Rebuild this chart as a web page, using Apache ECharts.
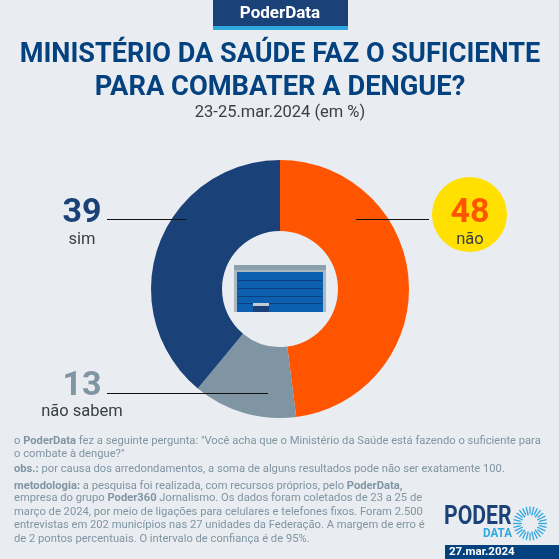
<!DOCTYPE html>
<html><head><meta charset="utf-8">
<style>html,body{margin:0;padding:0;background:#e9ecf0}#c{width:559px;height:559px}</style>
<script src="https://cdn.jsdelivr.net/npm/echarts@6/dist/echarts.min.js"></script>
</head><body><div id="c"></div>
<script>
var categories = ['não', 'não sabem', 'sim'];
var values = [48, 13, 39];
var colors = ['#ff5500', '#7f95a3', '#1a4279'];
var titleLines = ['MINISTÉRIO DA SAÚDE FAZ O SUFICIENTE', 'PARA COMBATER A DENGUE?'];
var subtitle = '23-25.mar.2024 (em %)';
var F = 'Roboto';
var note = '#7f95a3';

function T(x, y, text, size, color, weight, align, sx) {
  return {type: 'text', x: x, y: y, scaleX: sx || 1, silent: true, z: 20, style: {text: text, fontFamily: F, fontSize: size, fill: color, fontWeight: weight || 400, align: align || 'left', verticalAlign: 'middle'}};
}
function R(x, y, w, h, c, z) { return {type: 'rect', silent: true, z: z || 10, shape: {x: x, y: y, width: w, height: h}, style: {fill: c}}; }
function L(x1, y1, x2, y2, c, w, z) { return {type: 'line', silent: true, z: z || 15, shape: {x1: x1, y1: y1, x2: x2, y2: y2}, style: {stroke: c, lineWidth: w}}; }
function Rich(x, y, parts, size) {
  return {type: 'text', x: x, y: y, silent: true, z: 20, style: {fontFamily: F, fontSize: size, fill: note, verticalAlign: 'middle', text: parts.map(function (p) { return p[1] ? '{b|' + p[0] + '}' : '{n|' + p[0] + '}'; }).join(''),
    rich: {b: {fontFamily: F, fontSize: size, fontWeight: 700, fill: note}, n: {fontFamily: F, fontSize: size, fill: note}}}};
}

var g = [
  R(213, 0, 135, 26, '#1a4279'), R(213, 26, 135, 4, '#2fa8e0'),
  T(280, 14, 'PoderData', 17, '#ffffff', 700, 'center'),
  T(280, 55, titleLines[0], 27.1, '#04427f', 700, 'center'),
  T(280, 88, titleLines[1], 27.3, '#04427f', 700, 'center'),
  T(280, 113, subtitle, 16.5, '#3a4045', 400, 'center'),

  {type: 'circle', silent: true, z: 10, shape: {cx: 469.5, cy: 214.5, r: 37.5}, style: {fill: '#ffe000'}},
  T(470, 213, String(values[0]), 34, '#ff5500', 700, 'center'),
  T(470, 240, categories[0], 16.5, '#3a4045', 400, 'center'),
  T(82, 213, String(values[2]), 34, '#1a4279', 700, 'center'),
  T(82, 240, categories[2], 16.5, '#3a4045', 400, 'center'),
  T(82, 386, String(values[1]), 34, '#7f95a3', 700, 'center'),
  T(82, 412, categories[1], 16.5, '#3a4045', 400, 'center'),
  L(107, 219.5, 186, 219.5, '#111', 1), L(356, 219.5, 429, 219.5, '#111', 1), L(107, 393.5, 268, 393.5, '#111', 1),

  // centre icon
  R(234, 265, 92, 5, '#8aa0ac', 12), R(234, 270, 92, 42, '#a9b8c1', 12), R(237, 272, 86, 40, '#0d5fb0', 13),
  R(238, 280, 84, 1, '#0b3f80', 14), R(238, 288, 84, 1, '#0b3f80', 14), R(238, 296, 84, 1, '#0b3f80', 14), R(238, 303, 84, 1, '#0b3f80', 14),
  R(253, 303, 16, 3, '#c3ccd2', 15), R(253, 306, 16, 6, '#1a4279', 15),

  Rich(14, 441, [['o ', 0], ['PoderData', 1], [' fez a seguinte pergunta: "Você acha que o Ministério da Saúde está fazendo o suficiente para', 0]], 11.2),
  Rich(14, 454, [['o combate à dengue?"', 0]], 11.2),
  Rich(14, 469, [['obs.:', 1], [' por causa dos arredondamentos, a soma de alguns resultados pode não ser exatamente 100.', 0]], 11.2),
  Rich(14, 486, [['metodologia:', 1], [' a pesquisa foi realizada, com recursos próprios, pelo ', 0], ['PoderData,', 1]], 11.2),
  Rich(14, 498.5, [['empresa do grupo ', 0], ['Poder360', 1], [' Jornalismo. Os dados foram coletados de 23 a 25 de', 0]], 11.2),
  Rich(14, 512, [['março de 2024, por meio de ligações para celulares e telefones fixos. Foram 2.500', 0]], 11.2),
  Rich(14, 525, [['entrevistas em 202 municípios nas 27 unidades da Federação. A margem de erro é', 0]], 11.2),
  Rich(14, 539, [['de 2 pontos percentuais. O intervalo de confiança é de 95%.', 0]], 11.2),

  T(444, 518, 'PODER', 25.5, '#1a4279', 700, 'left', 0.83),
  T(483, 534, 'DATA', 12.5, '#2fa8e0', 700, 'left', 0.93),
  R(445, 545, 114, 14, '#04427f'),
  T(449, 552.5, '27.mar.2024', 11.5, '#ffffff', 700, 'left')
];
for (var i = 0; i < 28; i++) {
  var a = i / 28 * Math.PI * 2, r1 = 8 + (i % 2) * 1.5, r2 = 17;
  g.push(L(530 + Math.cos(a) * r1, 523.5 + Math.sin(a) * r1, 530 + Math.cos(a) * r2, 523.5 + Math.sin(a) * r2, '#2fa8e0', 1.3));
}

var chart = echarts.init(document.getElementById('c'), null, {renderer: 'canvas'});
chart.setOption({
  animation: false,
  backgroundColor: '#e9ecf0',
  graphic: g,
  series: [{
    type: 'pie', center: [280, 289], radius: [58, 129], startAngle: 90, clockwise: true,
    silent: true, label: {show: false}, labelLine: {show: false},
    data: categories.map(function (c, i) { return {name: c, value: values[i], itemStyle: {color: colors[i]}}; })
  }]
});
</script></body></html>
